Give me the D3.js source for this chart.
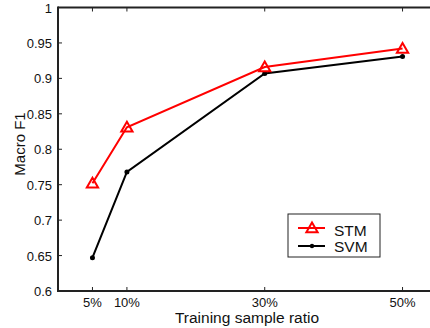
<!DOCTYPE html>
<html lang="en">
<head>
  <meta charset="UTF-8" />
  <title>Macro F1 vs training sample ratio</title>
  <script src="https://d3js.org/d3.v7.min.js"></script>
  <style>
    body { margin: 0; background: #fff; font-family: "Liberation Sans", Arial, sans-serif; }
    svg { display: block; }
    .line { fill: none; stroke-width: 2px; }
  </style>
</head>
<body>
<svg id="chart" width="430" height="328"></svg>
<script>
const ratios = [5, 10, 30, 50];
const tickLabels = ["5%", "10%", "30%", "50%"];
const yTicks = [0.6, 0.65, 0.7, 0.75, 0.8, 0.85, 0.9, 0.95, 1];
const stm = [0.752, 0.831, 0.916, 0.942];
const svm = [0.647, 0.768, 0.907, 0.931];

const svg = d3.select("#chart");
const x = d3.scaleLinear().domain([0, 55]).range([58, 437]);
const y = d3.scaleLinear().domain([0.6, 1]).range([291, 7.5]);
const axisColor = "#222";

// frame lines (left, bottom, top)
svg.append("line").attr("x1", x(0)).attr("x2", 430).attr("y1", y(1)).attr("y2", y(1))
  .attr("stroke", axisColor).attr("stroke-width", 2);
svg.append("line").attr("x1", x(0)).attr("x2", 430).attr("y1", y(0.6)).attr("y2", y(0.6))
  .attr("stroke", axisColor).attr("stroke-width", 2);
svg.append("line").attr("x1", x(0)).attr("x2", x(0)).attr("y1", y(1) - 1).attr("y2", y(0.6) + 1)
  .attr("stroke", axisColor).attr("stroke-width", 2);

// x ticks (inward, bottom and top)
ratios.forEach((r, i) => {
  svg.append("line").attr("x1", x(r)).attr("x2", x(r)).attr("y1", y(0.6)).attr("y2", y(0.6) - 4)
    .attr("stroke", axisColor);
  svg.append("line").attr("x1", x(r)).attr("x2", x(r)).attr("y1", y(1)).attr("y2", y(1) + 4)
    .attr("stroke", axisColor);
  svg.append("text").attr("x", x(r)).attr("y", y(0.6) + 16)
    .attr("text-anchor", "middle").attr("font-size", 13).attr("fill", "#111")
    .text(tickLabels[i]);
});

// y ticks
yTicks.forEach(t => {
  svg.append("line").attr("x1", x(0)).attr("x2", x(0) + 4).attr("y1", y(t)).attr("y2", y(t))
    .attr("stroke", axisColor);
  svg.append("text").attr("x", 52).attr("y", y(t) + 5)
    .attr("text-anchor", "end").attr("font-size", 13).attr("fill", "#111")
    .text(d3.format("~g")(t));
});

// axis titles
svg.append("text").attr("x", 247).attr("y", 323).attr("text-anchor", "middle")
  .attr("font-size", 15.5).attr("fill", "#111").text("Training sample ratio");
svg.append("text").attr("transform", `translate(25,144) rotate(-90)`).attr("text-anchor", "middle")
  .attr("font-size", 15).attr("fill", "#111").text("Macro F1");

const line = d3.line().x((d, i) => x(ratios[i])).y(d => y(d));
const tri = d3.symbol().type(d3.symbolTriangle).size(55);

svg.append("path").datum(svm).attr("class", "line").attr("stroke", "#000").attr("d", line);
svg.selectAll(".svmDot").data(svm).enter().append("circle")
  .attr("cx", (d, i) => x(ratios[i])).attr("cy", d => y(d)).attr("r", 2.5).attr("fill", "#000");

svg.append("path").datum(stm).attr("class", "line").attr("stroke", "#ff0000").attr("d", line);
svg.selectAll(".stmTri").data(stm).enter().append("path")
  .attr("transform", (d, i) => `translate(${x(ratios[i])},${y(d) + 1})`)
  .attr("d", tri).attr("fill", "none").attr("stroke", "#ff0000").attr("stroke-width", 2);

// legend
const lg = svg.append("g").attr("transform", "translate(288,214)");
lg.append("rect").attr("width", 92).attr("height", 43).attr("fill", "#fff")
  .attr("stroke", axisColor).attr("stroke-width", 1);
lg.append("line").attr("x1", 10).attr("x2", 37).attr("y1", 14).attr("y2", 14)
  .attr("stroke", "#ff0000").attr("stroke-width", 2);
lg.append("path").attr("transform", "translate(24,15)").attr("d", tri)
  .attr("fill", "none").attr("stroke", "#ff0000").attr("stroke-width", 2);
lg.append("text").attr("x", 46).attr("y", 22).attr("font-size", 15.5).attr("fill", "#111").text("STM");
lg.append("line").attr("x1", 10).attr("x2", 37).attr("y1", 32).attr("y2", 32)
  .attr("stroke", "#000").attr("stroke-width", 2);
lg.append("circle").attr("cx", 24).attr("cy", 32).attr("r", 2.2).attr("fill", "#000");
lg.append("text").attr("x", 46).attr("y", 37.5).attr("font-size", 15.5).attr("fill", "#111").text("SVM");
</script>
</body>
</html>
